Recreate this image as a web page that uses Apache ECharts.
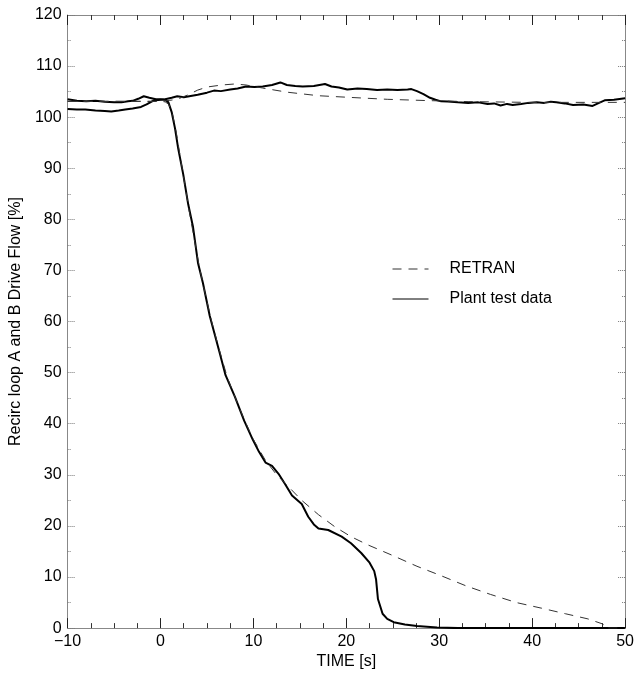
<!DOCTYPE html>
<html>
<head>
<meta charset="utf-8">
<script src="https://cdn.jsdelivr.net/npm/echarts@6/dist/echarts.min.js"></script>
<style>html,body{margin:0;padding:0;background:#fff}#c{width:637px;height:675px}</style>
</head>
<body>
<div id="c"></div>
<script>
// Tick values
const xTicks = [-10, 0, 10, 20, 30, 40, 50];
const yTicks = [0, 10, 20, 30, 40, 50, 60, 70, 80, 90, 100, 110, 120];

// Plant test data, loop that trips (drops to zero)
const plantTrip = [
  [-10,103.5],[-9,103.2],[-8,103.1],[-7,103.2],[-6,103.0],[-5,102.9],[-4.2,102.9],[-3.5,103.1],[-3,103.2],[-2.4,103.6],[-1.8,104.1],[-1.2,103.8],[-0.5,103.5],[0,103.5],[0.5,103.4],
  [0.85,102.9],[1.2,101.0],[1.56,97.8],[1.9,93.9],[2.45,88.75],[2.98,82.95],[3.5,78.5],[4.04,71.4],[4.57,67.5],[5.3,61.1],[6.35,54.0],[7.0,49.5],[8.0,45.3],[9.0,40.6],[9.9,37.0],
  [10.6,34.5],[11.3,32.4],[12.0,31.75],[12.7,30.2],[13.4,28.2],[14.15,25.95],[15.2,24.3],[15.9,21.8],[16.5,20.3],[17.0,19.5],[18.05,19.2],[19.5,17.9],[20.5,16.6],[21.6,14.7],[22.5,12.8],[23.0,11.15],
  [23.2,9.5],[23.4,5.7],[23.9,2.8],[24.4,1.8],[25.1,1.15],[26.3,0.7],[27.6,0.4],[29.75,0.1],[32,0],[50,0]
];

// Plant test data, loop that keeps running
const plantRun = [
  [-10,101.6],[-9,101.5],[-8.1,101.5],[-7,101.3],[-6,101.2],[-5.3,101.1],[-4.5,101.3],[-3.8,101.5],[-3,101.7],[-2.1,102.0],[-1.5,102.5],[-0.76,103.25],[0,103.4],[0.5,103.5],[1.2,103.8],
  [1.8,104.1],[2.5,103.9],[3.1,104.1],[4.0,104.4],[5.0,104.8],[5.75,105.2],[6.5,105.1],[7.5,105.4],[8.3,105.6],[9.2,106.0],[10.1,105.9],[11.0,106.0],[12.0,106.3],[12.9,106.8],
  [13.6,106.3],[14.5,106.1],[15.3,106.0],[16.5,106.1],[17.7,106.5],[18.4,106.0],[19.2,105.8],[20.1,105.4],[21.2,105.6],[22.2,105.5],[23.3,105.3],[24.4,105.4],[25.5,105.3],[26.6,105.4],
  [27.0,105.5],[27.6,105.1],[28.3,104.5],[29.0,103.8],[29.6,103.4],[30.2,103.1],[30.9,103.05],[32.0,102.9],[33.1,102.8],[34.2,102.9],[35.2,102.6],[35.9,102.7],[36.6,102.3],[37.3,102.6],
  [37.9,102.4],[38.8,102.6],[39.6,102.8],[40.5,102.9],[41.3,102.8],[42.0,103.0],[42.6,102.9],[43.5,102.7],[44.4,102.4],[45.5,102.5],[46.5,102.2],[47.2,102.8],[47.8,103.3],[48.8,103.4],[50,103.7]
];

// RETRAN, loop that trips
const retranTrip = [
  [-10,103.1],[0,103.1],[0.5,103.0],[0.9,102.5],[1.3,100.5],[1.7,97.0],[2.1,92.5],[2.6,87.0],[3.1,81.5],[3.6,76.5],[4.2,70.5],[4.8,65.5],[5.5,60.0],[6.4,54.0],[7.2,49.0],[8.5,43.0],
  [9.9,37.2],[11.3,32.8],[12.5,30.0],[13.6,28.0],[15.2,25.0],[17.0,22.2],[18.75,19.85],[20.5,17.9],[22.3,16.3],[25.0,14.2],[27.6,12.1],[30.0,10.4],[32.9,8.25],[35.5,6.6],[38.3,5.0],
  [41.0,3.9],[43.6,2.8],[46.0,1.8],[47.6,0.8],[47.8,0],[50,0]
];

// RETRAN, loop that keeps running
const retranRun = [
  [-10,103.1],[0,103.1],[1.0,103.3],[1.8,103.5],[3.0,104.4],[4.0,105.3],[5.0,105.9],[6.6,106.3],[8.0,106.5],[9.2,106.3],[11.0,105.7],[13.6,104.9],[17.0,104.2],[20.1,103.9],
  [24.4,103.5],[28.7,103.25],[33.1,103.05],[39.6,102.9],[50,102.9]
];

const FONT = 'Liberation Sans, Arial, Helvetica, sans-serif';
const chart = echarts.init(document.getElementById('c'), null, {renderer: 'canvas'});
const minus = v => String(v).replace('-', '\u2212');

const baseX = {
  type: 'value', min: -10, max: 50, interval: 10,
  axisLine: {show: true, onZero: false, lineStyle: {color: '#888', width: 1}},
  axisTick: {show: true, inside: true, length: 10, lineStyle: {color: '#222'}},
  minorTick: {show: true, splitNumber: 4, length: 5, lineStyle: {color: '#333'}},
  splitLine: {show: false}
};
const baseY = {
  type: 'value', min: 0, max: 120, interval: 10,
  axisLine: {show: true, onZero: false, lineStyle: {color: '#888', width: 1}},
  axisTick: {show: true, inside: true, length: 7, lineStyle: {color: '#777', type: 'dotted'}},
  minorTick: {show: true, splitNumber: 2, length: 4, lineStyle: {color: '#777', type: 'dotted'}},
  splitLine: {show: false}
};

const lineS = (name, data, dashed) => ({
  name, type: 'line', data, showSymbol: false, symbol: 'none', smooth: false,
  lineStyle: dashed ? {color: '#333', width: 1, type: [9, 7]} : {color: '#000', width: 2},
  itemStyle: {color: '#000'},
  animation: false, z: dashed ? 3 : 2
});

chart.setOption({
  animation: false,
  backgroundColor: '#fff',
  grid: {left: 63, right: 10, top: 15, bottom: 39, containLabel: false},
  textStyle: {fontFamily: FONT},
  legend: {
    orient: 'vertical', left: 387, top: 256,
    itemWidth: 36, itemHeight: 14, itemGap: 14,
    data: ['RETRAN', 'Plant test data'],
    itemStyle: {opacity: 0},
    lineStyle: {width: 1},
    textStyle: {fontFamily: FONT, fontSize: 16, color: '#000', padding: [0, 0, 0, 16]},
    selectedMode: false
  },
  xAxis: [
    Object.assign({}, baseX, {
      position: 'bottom',
      name: 'TIME [s]', nameLocation: 'middle', nameGap: 21,
      nameTextStyle: {fontFamily: FONT, fontSize: 16, color: '#000', verticalAlign: 'top'},
      axisLabel: {fontFamily: FONT, fontSize: 16, color: '#000', margin: 5, formatter: minus}
    }),
    Object.assign({}, baseX, {position: 'top', axisLabel: {show: false}})
  ],
  yAxis: [
    Object.assign({}, baseY, {
      position: 'left',
      name: 'Recirc loop A and B Drive Flow [%]', nameLocation: 'middle', nameGap: 42,
      nameTextStyle: {fontFamily: FONT, fontSize: 16, color: '#000'},
      axisLabel: {fontFamily: FONT, fontSize: 16, color: '#000', margin: 6}
    }),
    Object.assign({}, baseY, {position: 'right', axisLabel: {show: false}})
  ],
  series: [
    lineS('Plant test data', plantTrip, false),
    lineS('Plant test data', plantRun, false),
    lineS('RETRAN', retranTrip, true),
    lineS('RETRAN', retranRun, true)
  ]
});
</script>
</body>
</html>
